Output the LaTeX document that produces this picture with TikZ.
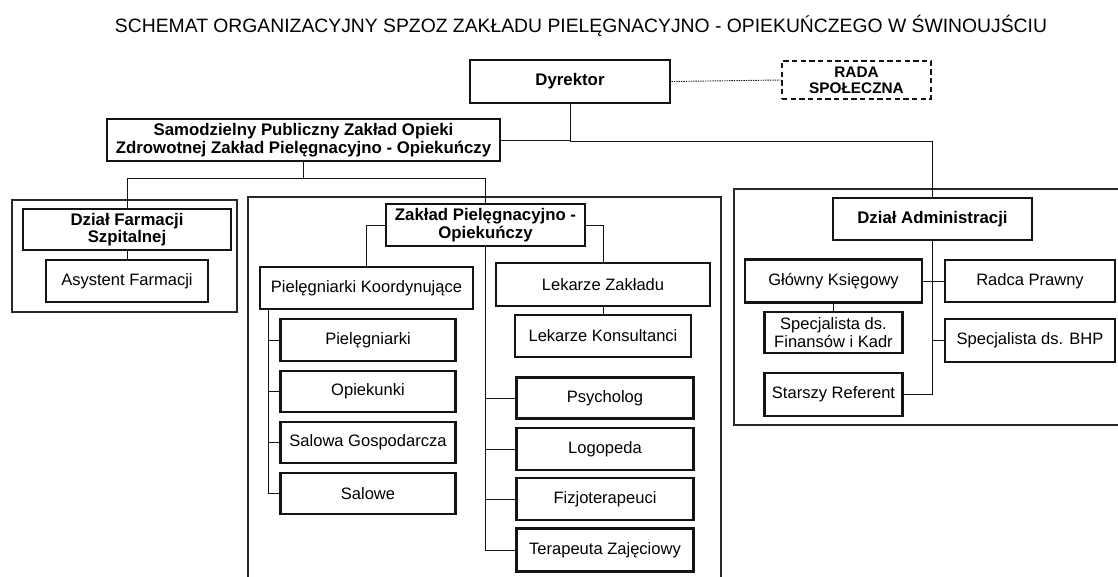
\documentclass[tikz,border=0pt]{standalone}
\usepackage{fontspec}
\setmainfont{Liberation Sans}
\usetikzlibrary{calc}
\definecolor{orgInk}{RGB}{20,20,20}
\definecolor{orgPanel}{RGB}{40,40,40}

\begin{document}
\begin{tikzpicture}[x=0.75pt, y=-0.75pt,
  size/.style 2 args={minimum width=#1*0.75pt, minimum height=#2*0.75pt},
  unit/.style={draw=orgInk, line width=1.6pt, fill=white, inner sep=1pt, align=center,
    font=\fontsize{12.4}{13}\selectfont},
  head/.style={unit, line width=2.2pt, font=\fontsize{12.6}{13.2}\selectfont\bfseries},
  link/.style={orgInk, line width=0.7pt},
  panel/.style={orgPanel, line width=1pt}]
  \useasboundingbox (0,0) rectangle (1118,577);

  % Title
  \node[font=\fontsize{14.5}{16}\selectfont] (title) at (581,26)
    {SCHEMAT ORGANIZACYJNY SPZOZ ZAKŁADU PIELĘGNACYJNO - OPIEKUŃCZEGO W ŚWINOUJŚCIU};

  % Panels
  \draw[panel] (12,200) rectangle (237,312);
  \draw[panel] (248,197) rectangle (721,600);
  \draw[panel] (734,189) rectangle (1125,425);

  % Top level
  \node[head, size={200}{43}] (dyr) at (570,81.5) {Dyrektor};
  \node[head, size={149}{38}, dash pattern=on 4pt off 2.5pt,
    font=\fontsize{11.5}{12}\selectfont\bfseries] (rada) at (856.5,80) {RADA\\SPOŁECZNA};
  \draw[link, dash pattern=on 1pt off 0.8pt] (dyr.east) -- (rada.west);
  \node[head, size={393}{42}] (spzoz) at (303.5,140)
    {Samodzielny Publiczny Zakład Opieki\\Zdrowotnej Zakład Pielęgnacyjno - Opiekuńczy};

  % Farmacja
  \node[head, size={208}{41}] (farm) at (127,229.5) {Dział Farmacji\\Szpitalnej};
  \node[unit, size={162}{42}] (asyst) at (127,281) {Asystent Farmacji};

  % Zaklad Pielegnacyjno - Opiekunczy
  \node[head, size={199}{42}] (zpo) at (485.5,225) {Zakład Pielęgnacyjno -\\Opiekuńczy};
  \node[unit, size={213}{42}] (pk) at (366.5,288) {Pielęgniarki Koordynujące};
  \node[unit, size={175}{42}] (piel) at (368,340) {Pielęgniarki};
  \node[unit, size={175}{41}] (opie) at (368,391.5) {Opiekunki};
  \node[unit, size={175}{41}] (salg) at (368,442.5) {Salowa Gospodarcza};
  \node[unit, size={175}{41}] (salo) at (368,493.5) {Salowe};
  \node[unit, size={214}{43}] (lz) at (603,284.5) {Lekarze Zakładu};
  \node[unit, size={176}{42}] (lk) at (603,336) {Lekarze Konsultanci};
  \node[unit, size={177}{41}] (psy) at (605,398) {Psycholog};
  \node[unit, size={177}{42}] (logo) at (605,449) {Logopeda};
  \node[unit, size={177}{42}] (fizjo) at (605,499) {Fizjoterapeuci};
  \node[unit, size={177}{43}] (ter) at (605,550) {Terapeuta Zajęciowy};

  % Administracja
  \node[head, size={199}{42}] (adm) at (932.5,219) {Dział Administracji};
  \node[unit, size={177}{43}] (gk) at (833.5,281) {Główny Księgowy};
  \node[unit, size={170}{42}] (rp) at (1030,281) {Radca Prawny};
  \node[unit, size={138}{41}] (sfk) at (833.5,332.5) {Specjalista ds.\\Finansów i Kadr};
  \node[unit, size={170}{43}] (bhp) at (1030,340.5) {Specjalista ds. BHP};
  \node[unit, size={138}{43}] (sr) at (833.5,394.5) {Starszy Referent};

  % Connectors
  \draw[link] (dyr.south) |- (spzoz.east);
  \draw[link] (dyr.south) -- ++(0,37) -| (adm.north);
  \draw[link] (spzoz.south) -- ++(0,16) -| (farm.north);
  \draw[link] (spzoz.south) -- ++(0,16) -| (zpo.north);
  \draw[link] (farm.south) -- (asyst.north);
  \draw[link] (zpo.west) -| (pk.north);
  \draw[link] (zpo.east) -| (lz.north);
  \draw[link] (lz.south) -- (lk.north);
  \foreach \n in {psy,logo,fizjo,ter}
    \draw[link] (zpo.south) |- (\n.west);
  \coordinate (pktrunk) at ($(pk.south west)+(10,0)$);
  \foreach \n in {piel,opie,salg,salo}
    \draw[link] (pktrunk) |- (\n.west);
  \draw[link] (gk.east) -- (rp.west);
  \draw[link] (gk.south) -- (sfk.north);
  \draw[link] (adm.south) |- (bhp.west);
  \draw[link] (adm.south) |- (sr.east);
\end{tikzpicture}
\end{document}
